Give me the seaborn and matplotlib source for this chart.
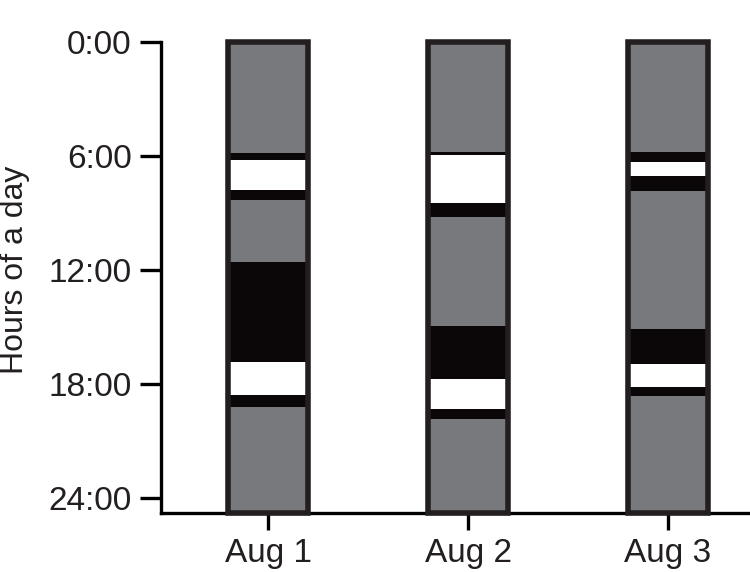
import matplotlib
matplotlib.use("Agg")
import matplotlib.pyplot as plt
import seaborn as sns

# ---- data (hours of the day, segment ends read top-down) ----
days = ["Aug 1", "Aug 2", "Aug 3"]
seg_states = ["gray", "black", "white", "black", "gray", "black", "white", "black", "gray"]
aug1_ends = [5.83, 6.22, 7.80, 8.33, 11.60, 16.85, 18.57, 19.20, 24.77]
aug2_ends = [5.78, 5.95, 8.49, 9.19, 14.94, 17.74, 19.32, 19.84, 24.77]
aug3_ends = [5.78, 6.31, 7.06, 7.83, 15.10, 16.95, 18.13, 18.60, 24.77]
hour_ticks = [0, 6, 12, 18, 24]
hour_labels = ["0:00", "6:00", "12:00", "18:00", "24:00"]
y_label = "Hours of a day"

state_colors = {"gray": "#78797d", "black": "#0b0607", "white": "#ffffff"}
outline = "#231f20"

sns.set_style("ticks")
plt.rcParams["font.family"] = ["Liberation Sans", "DejaVu Sans"]

fig = plt.figure(figsize=(7.5, 5.72), dpi=100)
ax = fig.add_axes([0.2147, 0.1031, 0.7853, 0.8239])

# draw segments from bottom (longest) to top so shorter bars overlay
for k in range(len(seg_states) - 1, -1, -1):
    vals = [aug1_ends[k], aug2_ends[k], aug3_ends[k]]
    sns.barplot(x=days, y=vals, color=state_colors[seg_states[k]], saturation=1,
                width=0.4, errorbar=None, linewidth=0, ax=ax, zorder=2)

# outline of each day column
full = [aug1_ends[-1], aug2_ends[-1], aug3_ends[-1]]
sns.barplot(x=days, y=full, fill=False, color=outline, width=0.4, errorbar=None,
            linewidth=4.0, ax=ax, zorder=3)
for p in ax.patches:
    p.set_clip_on(False)

ax.set_ylim(24.77, 0)
ax.set_xlim(-0.535, 2.41)
ax.set_yticks(hour_ticks)
ax.set_yticklabels(hour_labels)
ax.set_xlabel("")
ax.set_ylabel(y_label, fontsize=23, color=outline)
ax.yaxis.set_label_coords(-0.222, 0.516)

sns.despine(ax=ax)
for s in ["left", "bottom"]:
    ax.spines[s].set_linewidth(2.4)
    ax.spines[s].set_color("black")
ax.tick_params(axis="y", length=15, width=2.4, pad=6, labelsize=24, colors="black", labelcolor=outline)
ax.tick_params(axis="x", length=12, width=2.4, pad=6, labelsize=24, colors="black", labelcolor=outline)

fig.savefig("out.png", dpi=100)
